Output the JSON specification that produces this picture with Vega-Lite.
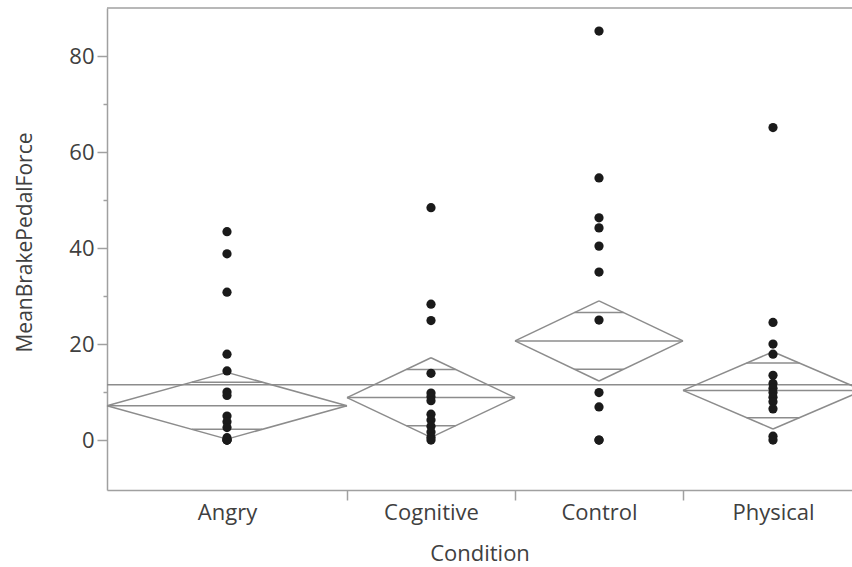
{
  "$schema": "https://vega.github.io/schema/vega-lite/v6.json",
  "autosize": "none",
  "padding": {"left": 107, "top": 8, "right": 0, "bottom": 77},
  "width": 745,
  "height": 482,
  "background": "white",
  "config": {
    "view": {"stroke": null},
    "font": "Open Sans",
    "axis": {
      "grid": false,
      "domainColor": "#a0a0a0",
      "domainWidth": 1.5,
      "tickColor": "#a0a0a0",
      "tickWidth": 1.5,
      "labelFont": "Open Sans",
      "labelFontSize": 22,
      "labelColor": "#404040",
      "titleFont": "Open Sans",
      "titleFontSize": 21,
      "titleFontWeight": "normal",
      "titleColor": "#404040"
    }
  },
  "resolve": {"axis": {"y": "independent", "x": "independent"}},
  "datasets": {
    "points": [
      {"Condition": "Angry", "pos": 10, "MeanBrakePedalForce": 43.4},
      {"Condition": "Angry", "pos": 10, "MeanBrakePedalForce": 38.8},
      {"Condition": "Angry", "pos": 10, "MeanBrakePedalForce": 30.8},
      {"Condition": "Angry", "pos": 10, "MeanBrakePedalForce": 17.9},
      {"Condition": "Angry", "pos": 10, "MeanBrakePedalForce": 14.4},
      {"Condition": "Angry", "pos": 10, "MeanBrakePedalForce": 10.0},
      {"Condition": "Angry", "pos": 10, "MeanBrakePedalForce": 9.3},
      {"Condition": "Angry", "pos": 10, "MeanBrakePedalForce": 5.0},
      {"Condition": "Angry", "pos": 10, "MeanBrakePedalForce": 3.8},
      {"Condition": "Angry", "pos": 10, "MeanBrakePedalForce": 2.6},
      {"Condition": "Angry", "pos": 10, "MeanBrakePedalForce": 0.5},
      {"Condition": "Angry", "pos": 10, "MeanBrakePedalForce": 0},
      {"Condition": "Angry", "pos": 10, "MeanBrakePedalForce": 0},
      {"Condition": "Angry", "pos": 10, "MeanBrakePedalForce": 0},
      {"Condition": "Cognitive", "pos": 27, "MeanBrakePedalForce": 48.4},
      {"Condition": "Cognitive", "pos": 27, "MeanBrakePedalForce": 28.3},
      {"Condition": "Cognitive", "pos": 27, "MeanBrakePedalForce": 24.9},
      {"Condition": "Cognitive", "pos": 27, "MeanBrakePedalForce": 13.9},
      {"Condition": "Cognitive", "pos": 27, "MeanBrakePedalForce": 9.8},
      {"Condition": "Cognitive", "pos": 27, "MeanBrakePedalForce": 9.0},
      {"Condition": "Cognitive", "pos": 27, "MeanBrakePedalForce": 8.2},
      {"Condition": "Cognitive", "pos": 27, "MeanBrakePedalForce": 5.4},
      {"Condition": "Cognitive", "pos": 27, "MeanBrakePedalForce": 4.2},
      {"Condition": "Cognitive", "pos": 27, "MeanBrakePedalForce": 2.9},
      {"Condition": "Cognitive", "pos": 27, "MeanBrakePedalForce": 1.7},
      {"Condition": "Cognitive", "pos": 27, "MeanBrakePedalForce": 0.6},
      {"Condition": "Cognitive", "pos": 27, "MeanBrakePedalForce": 0},
      {"Condition": "Control", "pos": 41, "MeanBrakePedalForce": 85.2},
      {"Condition": "Control", "pos": 41, "MeanBrakePedalForce": 54.6},
      {"Condition": "Control", "pos": 41, "MeanBrakePedalForce": 46.3},
      {"Condition": "Control", "pos": 41, "MeanBrakePedalForce": 44.2},
      {"Condition": "Control", "pos": 41, "MeanBrakePedalForce": 40.4},
      {"Condition": "Control", "pos": 41, "MeanBrakePedalForce": 35.0},
      {"Condition": "Control", "pos": 41, "MeanBrakePedalForce": 25.0},
      {"Condition": "Control", "pos": 41, "MeanBrakePedalForce": 9.9},
      {"Condition": "Control", "pos": 41, "MeanBrakePedalForce": 6.9},
      {"Condition": "Control", "pos": 41, "MeanBrakePedalForce": 0},
      {"Condition": "Control", "pos": 41, "MeanBrakePedalForce": 0},
      {"Condition": "Physical", "pos": 55.5, "MeanBrakePedalForce": 65.1},
      {"Condition": "Physical", "pos": 55.5, "MeanBrakePedalForce": 24.5},
      {"Condition": "Physical", "pos": 55.5, "MeanBrakePedalForce": 20.0},
      {"Condition": "Physical", "pos": 55.5, "MeanBrakePedalForce": 17.9},
      {"Condition": "Physical", "pos": 55.5, "MeanBrakePedalForce": 13.5},
      {"Condition": "Physical", "pos": 55.5, "MeanBrakePedalForce": 11.8},
      {"Condition": "Physical", "pos": 55.5, "MeanBrakePedalForce": 10.8},
      {"Condition": "Physical", "pos": 55.5, "MeanBrakePedalForce": 9.9},
      {"Condition": "Physical", "pos": 55.5, "MeanBrakePedalForce": 8.9},
      {"Condition": "Physical", "pos": 55.5, "MeanBrakePedalForce": 8.0},
      {"Condition": "Physical", "pos": 55.5, "MeanBrakePedalForce": 6.5},
      {"Condition": "Physical", "pos": 55.5, "MeanBrakePedalForce": 0.8},
      {"Condition": "Physical", "pos": 55.5, "MeanBrakePedalForce": 0}
    ],
    "diamonds": [
      {"Condition": "Angry", "start": 0, "center": 10, "end": 20, "mean": 7.15, "upper": 14.1, "lower": 0.2, "ovUpper": 12.06, "ovLower": 2.24, "ovStart": 7.07, "ovEnd": 12.93},
      {"Condition": "Cognitive", "start": 20, "center": 27, "end": 34, "mean": 8.85, "upper": 17.15, "lower": 0.55, "ovUpper": 14.72, "ovLower": 2.98, "ovStart": 24.95, "ovEnd": 29.05},
      {"Condition": "Control", "start": 34, "center": 41, "end": 48, "mean": 20.65, "upper": 29.0, "lower": 12.3, "ovUpper": 26.55, "ovLower": 14.75, "ovStart": 38.95, "ovEnd": 43.05},
      {"Condition": "Physical", "start": 48, "center": 55.5, "end": 63, "mean": 10.35, "upper": 18.4, "lower": 2.3, "ovUpper": 16.04, "ovLower": 4.66, "ovStart": 53.3, "ovEnd": 57.7}
    ],
    "reference": [
      {"grandMean": 11.5, "top": 90}
    ]
  },
  "layer": [
    {
      "data": {"name": "diamonds"},
      "mark": {"type": "rule", "color": "#8c8c8c", "strokeWidth": 1.5},
      "encoding": {
        "x": {
          "field": "start", "type": "quantitative",
          "scale": {"domain": [0, 62.0833], "nice": false, "zero": false},
          "axis": {
            "orient": "bottom",
            "title": "Condition",
            "values": [10, 27, 41, 55.5],
            "labelExpr": "datum.value == 10 ? 'Angry' : datum.value == 27 ? 'Cognitive' : datum.value == 41 ? 'Control' : 'Physical'",
            "ticks": false,
            "tickSize": 10,
            "labelPadding": 12,
            "labelOverlap": false,
            "labelFlush": false,
            "titleFontSize": 22,
            "titlePadding": 20
          }
        },
        "x2": {"field": "center"},
        "y": {
          "field": "mean", "type": "quantitative",
          "scale": {"domain": [-10.4, 90], "nice": false, "zero": false},
          "axis": {
            "orient": "left",
            "title": "MeanBrakePedalForce",
            "values": [0, 20, 40, 60, 80],
            "tickSize": 10,
            "labelPadding": 3,
            "labelOverlap": false,
            "labelFlush": false,
            "titlePadding": 33,
            "titleY": 234
          }
        },
        "y2": {"field": "upper"}
      }
    },
    {
      "data": {"name": "diamonds"},
      "mark": {"type": "rule", "color": "#8c8c8c", "strokeWidth": 1.5},
      "encoding": {
        "x": {
          "field": "center", "type": "quantitative",
          "axis": {
            "orient": "bottom",
            "title": null,
            "values": [20, 34, 48],
            "tickSize": 10,
            "labels": false,
            "domain": false
          }
        },
        "x2": {"field": "end"},
        "y": {
          "field": "upper", "type": "quantitative",
          "axis": {
            "orient": "left",
            "title": null,
            "values": [10, 30, 50, 70],
            "tickSize": 4,
            "labels": false,
            "domain": false
          }
        },
        "y2": {"field": "mean"}
      }
    },
    {
      "data": {"name": "diamonds"},
      "mark": {"type": "rule", "color": "#8c8c8c", "strokeWidth": 1.5},
      "encoding": {
        "x": {"field": "start", "type": "quantitative", "axis": null},
        "x2": {"field": "center"},
        "y": {"field": "mean", "type": "quantitative", "axis": null},
        "y2": {"field": "lower"}
      }
    },
    {
      "data": {"name": "diamonds"},
      "mark": {"type": "rule", "color": "#8c8c8c", "strokeWidth": 1.5},
      "encoding": {
        "x": {"field": "center", "type": "quantitative", "axis": null},
        "x2": {"field": "end"},
        "y": {"field": "lower", "type": "quantitative", "axis": null},
        "y2": {"field": "mean"}
      }
    },
    {
      "data": {"name": "diamonds"},
      "mark": {"type": "rule", "color": "#8c8c8c", "strokeWidth": 1.5},
      "encoding": {
        "x": {"field": "start", "type": "quantitative", "axis": null},
        "x2": {"field": "end"},
        "y": {"field": "mean", "type": "quantitative", "axis": null}
      }
    },
    {
      "data": {"name": "diamonds"},
      "mark": {"type": "rule", "color": "#8c8c8c", "strokeWidth": 1.5},
      "encoding": {
        "x": {"field": "ovStart", "type": "quantitative", "axis": null},
        "x2": {"field": "ovEnd"},
        "y": {"field": "ovUpper", "type": "quantitative", "axis": null}
      }
    },
    {
      "data": {"name": "diamonds"},
      "mark": {"type": "rule", "color": "#8c8c8c", "strokeWidth": 1.5},
      "encoding": {
        "x": {"field": "ovStart", "type": "quantitative", "axis": null},
        "x2": {"field": "ovEnd"},
        "y": {"field": "ovLower", "type": "quantitative", "axis": null}
      }
    },
    {
      "data": {"name": "reference"},
      "mark": {"type": "rule", "color": "#8c8c8c", "strokeWidth": 1.5},
      "encoding": {
        "y": {"field": "grandMean", "type": "quantitative", "axis": null}
      }
    },
    {
      "data": {"name": "reference"},
      "mark": {"type": "rule", "color": "#a0a0a0", "strokeWidth": 1.5},
      "encoding": {
        "y": {"field": "top", "type": "quantitative", "axis": null}
      }
    },
    {
      "data": {"name": "points"},
      "mark": {"type": "circle", "size": 85, "color": "#1a1a1a", "opacity": 1},
      "encoding": {
        "x": {"field": "pos", "type": "quantitative", "axis": null},
        "y": {"field": "MeanBrakePedalForce", "type": "quantitative", "axis": null}
      }
    }
  ]
}
